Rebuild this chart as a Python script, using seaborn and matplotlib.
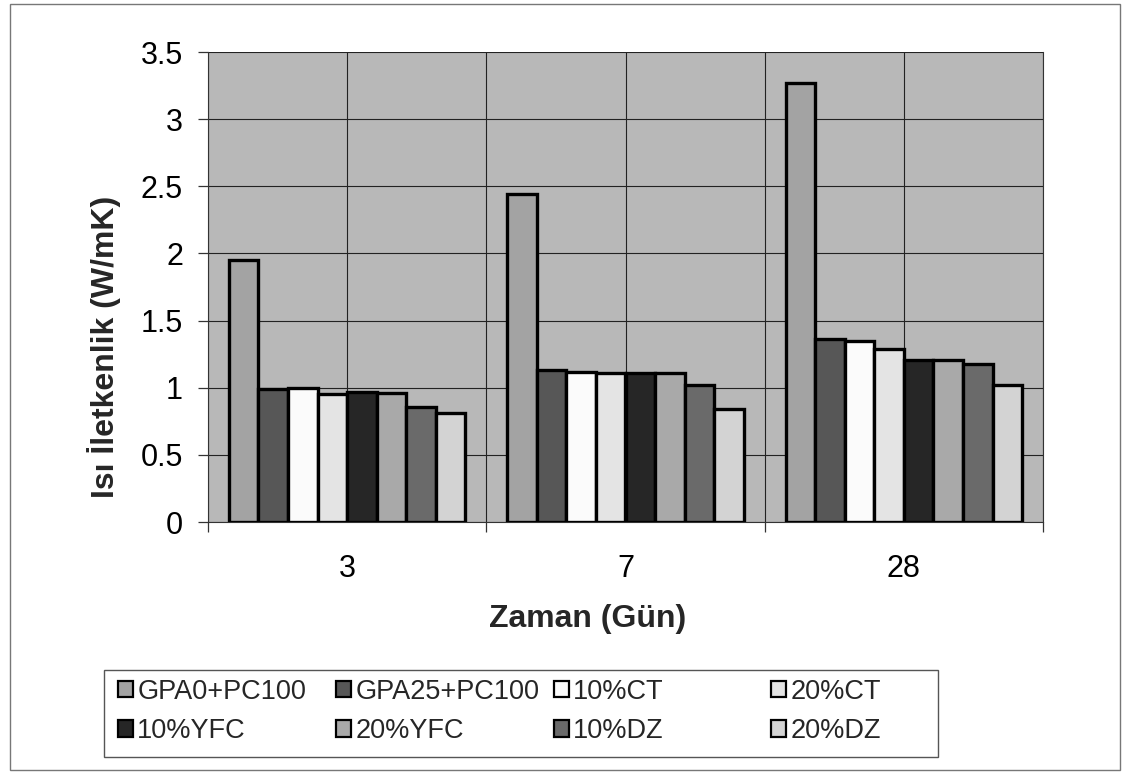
import numpy as np
import pandas as pd
import matplotlib
matplotlib.use("Agg")
import matplotlib.pyplot as plt
from matplotlib.patches import Patch, Rectangle
from matplotlib.ticker import FuncFormatter
import seaborn as sns

# ---- data ----
days = ["3", "7", "28"]
series = ["GPA0+PC100", "GPA25+PC100", "10%CT", "20%CT",
          "10%YFC", "20%YFC", "10%DZ", "20%DZ"]
v_gpa0 = [1.95, 2.44, 3.27]
v_gpa25 = [0.99, 1.13, 1.36]
v_10ct = [1.00, 1.12, 1.35]
v_20ct = [0.95, 1.11, 1.29]
v_10yfc = [0.97, 1.11, 1.21]
v_20yfc = [0.96, 1.11, 1.21]
v_10dz = [0.86, 1.02, 1.18]
v_20dz = [0.81, 0.84, 1.02]
y_ticks = [0, 0.5, 1, 1.5, 2, 2.5, 3, 3.5]
x_label = "Zaman (Gün)"
y_label = "Isı İletkenlik (W/mK)"

colors = ["#a3a3a3", "#575757", "#fbfbfb", "#e4e4e4",
          "#262626", "#a9a9a9", "#6a6a6a", "#d3d3d3"]

all_vals = [v_gpa0, v_gpa25, v_10ct, v_20ct, v_10yfc, v_20yfc, v_10dz, v_20dz]
rows = []
for s, vals in zip(series, all_vals):
    for d, v in zip(days, vals):
        rows.append({"day": d, "series": s, "value": v})
df = pd.DataFrame(rows)

sns.set_style("white")
plt.rcParams["font.family"] = ["Liberation Sans", "DejaVu Sans"]

W, H = 1127, 774
fig = plt.figure(figsize=(W / 100, H / 100), dpi=100)
fig.patch.set_facecolor("white")
ax = fig.add_axes([208 / W, (H - 522) / H, (1043 - 208) / W, (522 - 52) / H])
ax.set_facecolor("#b8b8b8")

sns.barplot(data=df, x="day", y="value", hue="series", order=days,
            hue_order=series, palette=colors, width=0.85,
            edgecolor="black", linewidth=2.4, saturation=1,
            errorbar=None, ax=ax, legend=False, zorder=3)

ax.set_xlim(-0.5, 2.5)
ax.set_ylim(0, 3.5)
ax.set_yticks(y_ticks)
ax.yaxis.set_major_formatter(FuncFormatter(lambda v, p: "%g" % v))
ax.set_xticks([0, 1, 2])
ax.set_xticklabels(days)
ax.set_xticks([-0.5, 0.5, 1.5, 2.5], minor=True)

ax.tick_params(axis="y", which="major", direction="out", length=7,
               width=0.9, color="#333333", pad=11, labelsize=22,
               labelcolor="black", left=True)
ax.tick_params(axis="x", which="major", length=0, pad=23, labelsize=22,
               labelcolor="black", bottom=True)
ax.tick_params(axis="x", which="minor", direction="out", length=7,
               width=0.9, color="#333333", bottom=True)

ax.set_axisbelow(True)
ax.grid(True, axis="y", which="major", color="#222222", linewidth=0.8)
ax.grid(True, axis="x", which="both", color="#222222", linewidth=0.8)

for side in ["left", "bottom", "right", "top"]:
    ax.spines[side].set_visible(True)
    ax.spines[side].set_color("#333333")
    ax.spines[side].set_linewidth(0.8)
ax.spines["top"].set_visible(False)

ax.set_xlabel(x_label, fontsize=23, fontweight="bold", va="center")
ax.xaxis.set_label_coords((587.5 - 208) / 835, (522 - 619) / 470)
ax.set_ylabel(y_label, fontsize=23, fontweight="bold", va="center")
ax.yaxis.set_label_coords((104 - 208) / 835, (522 - 347) / 470)

# legend frame
fig.patches.append(Rectangle((104 / W, (H - 757) / H), (938 - 104) / W, 87 / H,
                             transform=fig.transFigure, fill=False,
                             edgecolor="#555555", linewidth=1.0))
# outer frame
fig.patches.append(Rectangle((10 / W, (H - 770) / H), 1110 / W, 766 / H,
                             transform=fig.transFigure, fill=False,
                             edgecolor="#777777", linewidth=1.0))

handles = [Patch(facecolor=c, edgecolor="black", linewidth=1.6) for c in colors]
col_x = [118, 336, 554, 771]
for j, xl in enumerate(col_x):
    leg = fig.legend([handles[j], handles[j + 4]], [series[j], series[j + 4]],
                     loc="center left", bbox_to_anchor=(xl / W, (H - 711.5) / H),
                     bbox_transform=fig.transFigure, frameon=False,
                     fontsize=19.5, handlelength=0.56, handleheight=0.56,
                     handletextpad=0.15, labelspacing=0.5, borderpad=0,
                     borderaxespad=0, ncol=1)

fig.savefig("out.png", dpi=100)
